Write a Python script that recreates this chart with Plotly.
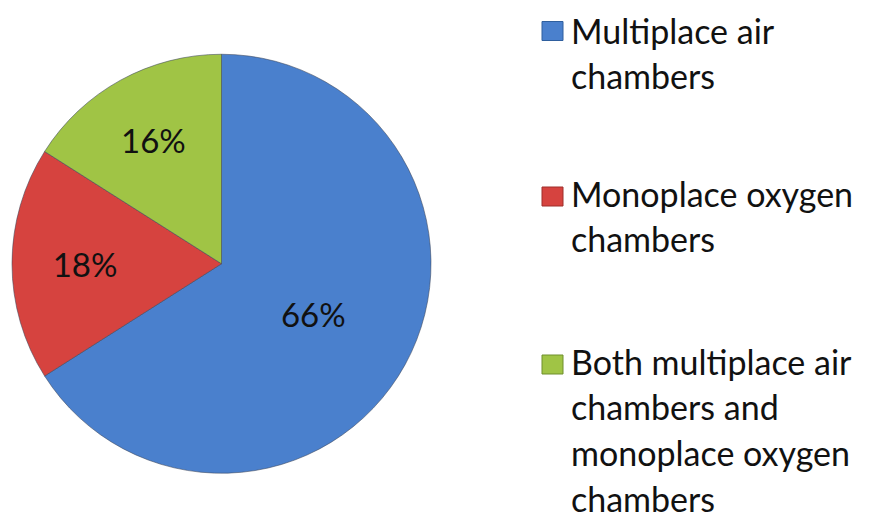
import plotly.graph_objects as go

categories = ["Multiplace air chambers", "Monoplace oxygen chambers",
              "Both multiplace air chambers and monoplace oxygen chambers"]
values = [66, 18, 16]
legend_lines = [
    ["Multiplace air", "chambers"],
    ["Monoplace oxygen", "chambers"],
    ["Both multiplace air", "chambers and", "monoplace oxygen", "chambers"],
]
colors = ["#4a80cd", "#d6433f", "#a0c445"]
edge_colors = ["#2f5f9e", "#9e2e2b", "#6f8f2c"]

# page body has an 8px margin; figure fills the rest of the 872x520 window
OFF = 8
W, H = 872 - OFF, 520 - OFF
FONT = "Lato"
FS_LEG = 34
FS_LBL = 33


def px(x):
    return (x - OFF) / W


def py(y):
    return 1 - (y - OFF) / H


fig = go.Figure()
fig.add_trace(go.Pie(
    labels=categories, values=values, sort=False, direction="clockwise", rotation=0,
    marker=dict(colors=colors, line=dict(color="rgba(60,70,90,0.55)", width=1)),
    texttemplate="%{value}%", textposition="inside", insidetextorientation="horizontal",
    textfont=dict(family=FONT, size=FS_LBL, color="#111111"),
    domain=dict(x=[px(12), px(431)], y=[py(473.5), py(54)]),
    showlegend=False, hoverinfo="label+percent",
))

# custom legend: squares + wrapped text lines (keep text boxes inside the figure)
square_centers = [31, 196.5, 364.5]
line_steps = [45, 45, 45.7]
first_line_center = [30, 193, 361]
shapes, annotations = [], []
for i, lines in enumerate(legend_lines):
    cy = square_centers[i]
    shapes.append(dict(type="rect", xref="paper", yref="paper",
                       x0=px(542), x1=px(563), y0=py(cy + 9.5), y1=py(cy - 9.5),
                       fillcolor=colors[i], line=dict(color=edge_colors[i], width=1)))
    for j, t in enumerate(lines):
        yc = first_line_center[i] + j * line_steps[i]
        annotations.append(dict(text=t, xref="paper", yref="paper", x=px(570), y=py(yc),
                                xanchor="left", yanchor="middle", showarrow=False,
                                borderpad=0,
                                font=dict(family=FONT, size=FS_LEG, color="#111111")))

fig.update_layout(width=W, height=H, margin=dict(l=0, r=0, t=0, b=0),
                  paper_bgcolor="white", plot_bgcolor="white",
                  shapes=shapes, annotations=annotations)
fig.write_html("out.html")
